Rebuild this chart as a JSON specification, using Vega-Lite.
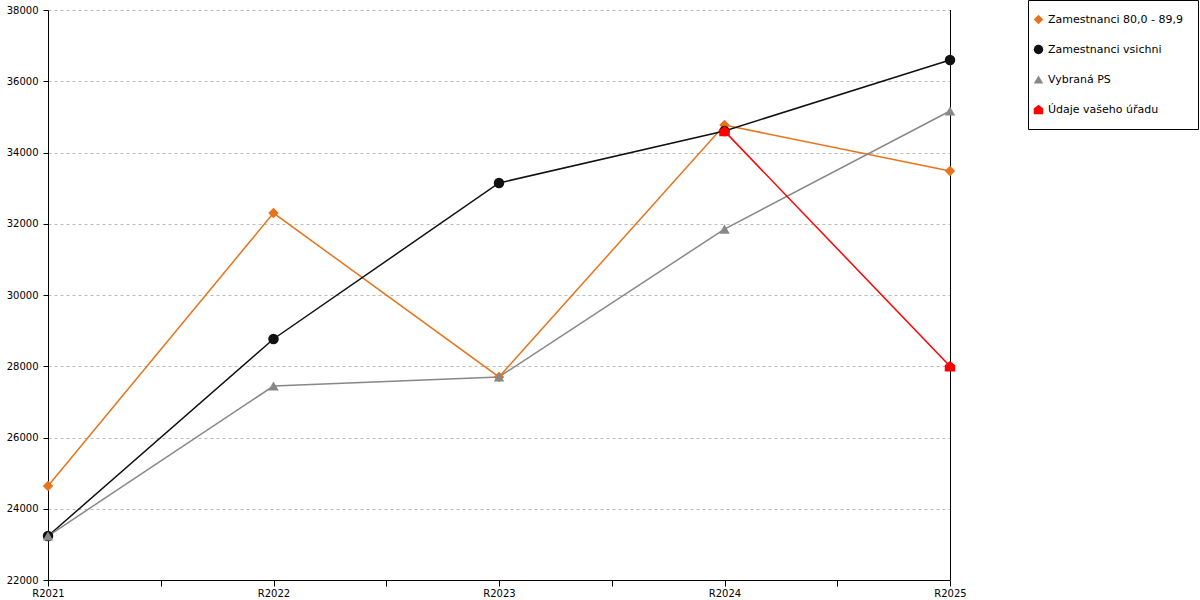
{
  "$schema": "https://vega.github.io/schema/vega-lite/v6.json",
  "width": 902,
  "height": 570,
  "autosize": "none",
  "padding": {"left": 48, "top": 10, "right": 250, "bottom": 20},
  "background": "white",
  "config": {
    "font": "DejaVu Sans",
    "view": {"stroke": null},
    "axis": {
      "labelFont": "DejaVu Sans",
      "labelFontSize": 10,
      "labelColor": "black",
      "domainColor": "black",
      "tickColor": "black",
      "domainWidth": 1,
      "tickWidth": 1
    },
    "legend": {
      "title": null,
      "orient": "none",
      "legendX": 980,
      "legendY": -10,
      "direction": "vertical",
      "strokeColor": "black",
      "fillColor": "white",
      "padding": 14,
      "rowPadding": 18,
      "labelFont": "DejaVu Sans",
      "labelFontSize": 11,
      "labelColor": "black",
      "symbolSize": 90,
      "symbolStrokeWidth": 0,
      "symbolOffset": -9,
      "labelOffset": 4,
      "labelLimit": 300
    }
  },
  "data": {
    "values": [
      {"rok": 2021, "rada": "Zamestnanci 80,0 - 89,9", "hodnota": 24640},
      {"rok": 2022, "rada": "Zamestnanci 80,0 - 89,9", "hodnota": 32300},
      {"rok": 2023, "rada": "Zamestnanci 80,0 - 89,9", "hodnota": 27700},
      {"rok": 2024, "rada": "Zamestnanci 80,0 - 89,9", "hodnota": 34770},
      {"rok": 2025, "rada": "Zamestnanci 80,0 - 89,9", "hodnota": 33480},
      {"rok": 2021, "rada": "Zamestnanci vsichni", "hodnota": 23235},
      {"rok": 2022, "rada": "Zamestnanci vsichni", "hodnota": 28765},
      {"rok": 2023, "rada": "Zamestnanci vsichni", "hodnota": 33145},
      {"rok": 2024, "rada": "Zamestnanci vsichni", "hodnota": 34605},
      {"rok": 2025, "rada": "Zamestnanci vsichni", "hodnota": 36595},
      {"rok": 2021, "rada": "Vybraná PS", "hodnota": 23235},
      {"rok": 2022, "rada": "Vybraná PS", "hodnota": 27445},
      {"rok": 2023, "rada": "Vybraná PS", "hodnota": 27700},
      {"rok": 2024, "rada": "Vybraná PS", "hodnota": 31850},
      {"rok": 2025, "rada": "Vybraná PS", "hodnota": 35165},
      {"rok": 2024, "rada": "Údaje vašeho úřadu", "hodnota": 34600},
      {"rok": 2025, "rada": "Údaje vašeho úřadu", "hodnota": 28000}
    ]
  },
  "encoding": {
    "x": {
      "field": "rok",
      "type": "quantitative",
      "scale": {"domain": [2021, 2025], "nice": false, "zero": false},
      "axis": {
        "title": null,
        "values": [2021, 2021.5, 2022, 2022.5, 2023, 2023.5, 2024, 2024.5, 2025],
        "labelExpr": "datum.value % 1 == 0 ? 'R' + datum.value : ''",
        "tickSize": 6,
        "labelPadding": 2,
        "grid": false,
        "labelFlush": false,
        "labelOverlap": false
      }
    },
    "y": {
      "field": "hodnota",
      "type": "quantitative",
      "scale": {"domain": [22000, 38000], "nice": false, "zero": false},
      "axis": {
        "title": null,
        "values": [22000, 24000, 26000, 28000, 30000, 32000, 34000, 36000, 38000],
        "format": "d",
        "tickSize": 5,
        "labelPadding": 5,
        "grid": true,
        "gridColor": "#bbbbbb",
        "gridDash": [3, 3],
        "labelFlush": false,
        "labelOverlap": false
      }
    }
  },
  "layer": [
    {
      "mark": {"type": "rule", "color": "black", "strokeWidth": 1, "xOffset": 0.5},
      "encoding": {
        "x": {"datum": 2025, "type": "quantitative"},
        "y": null
      }
    },
    {
      "mark": {"type": "line", "strokeWidth": 1.5},
      "encoding": {
        "stroke": {
          "field": "rada",
          "type": "nominal",
          "scale": {
            "domain": ["Zamestnanci 80,0 - 89,9", "Zamestnanci vsichni", "Vybraná PS", "Údaje vašeho úřadu"],
            "range": ["#e8731a", "#111111", "#888888", "#ff0000"]
          }
        }
      }
    },
    {
      "mark": {"type": "point", "filled": true, "opacity": 1, "size": 110},
      "encoding": {
        "shape": {
          "field": "rada",
          "type": "nominal",
          "scale": {
            "domain": ["Zamestnanci 80,0 - 89,9", "Zamestnanci vsichni", "Vybraná PS", "Údaje vašeho úřadu"],
            "range": ["diamond", "circle", "triangle-up", "M-1,1L1,1L1,-0.2L0,-1L-1,-0.2Z"]
          }
        },
        "fill": {
          "field": "rada",
          "type": "nominal",
          "scale": {
            "domain": ["Zamestnanci 80,0 - 89,9", "Zamestnanci vsichni", "Vybraná PS", "Údaje vašeho úřadu"],
            "range": ["#e8731a", "#111111", "#888888", "#ff0000"]
          }
        }
      }
    }
  ]
}
